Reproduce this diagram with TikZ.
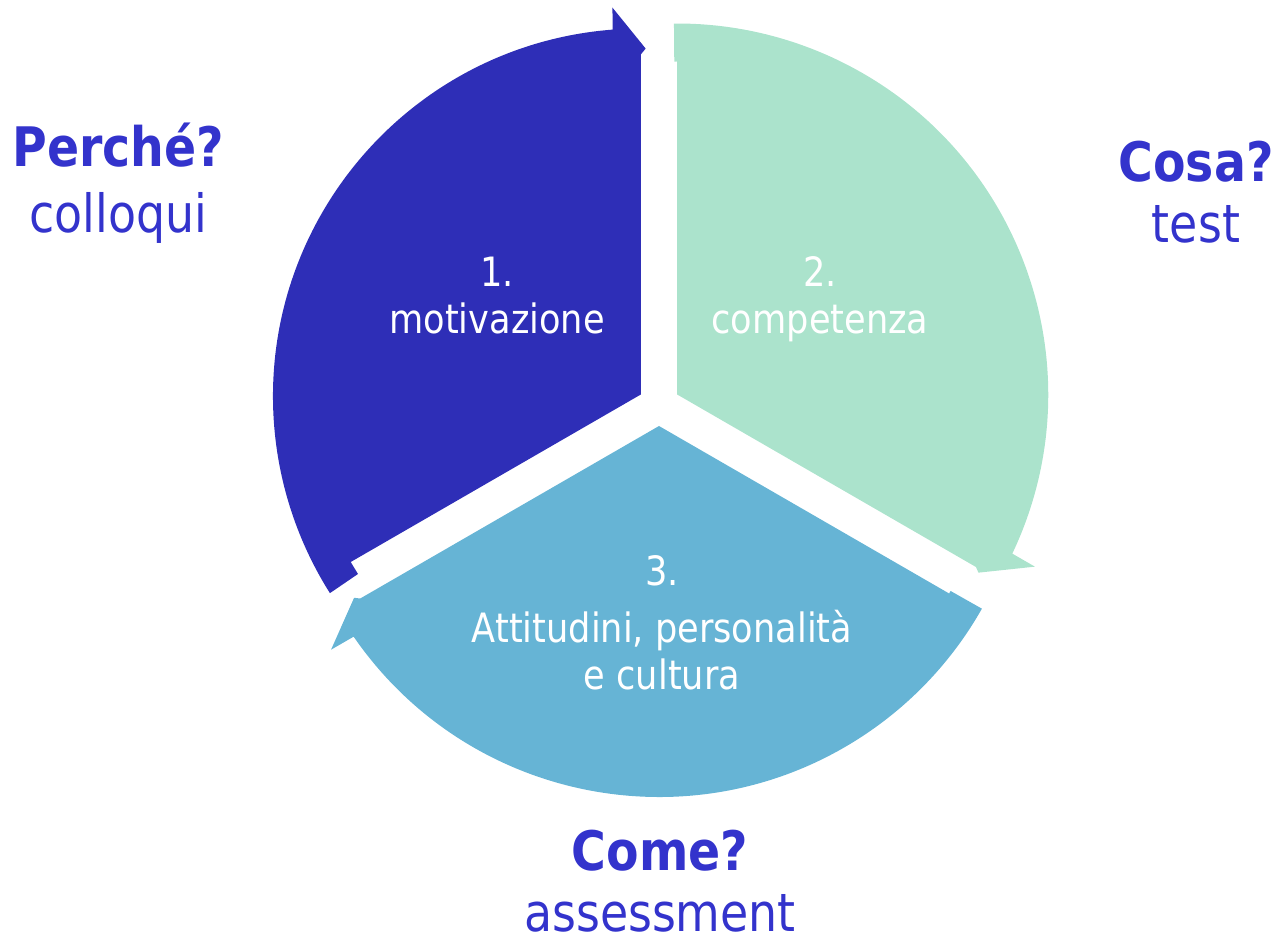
\documentclass[tikz,border=0pt]{standalone}
\usepackage{fontspec}
\setmainfont{DejaVu Sans}[FakeStretch=0.87]
\usetikzlibrary{positioning}
\usetikzlibrary{calc}
\definecolor{motivblue}{RGB}{46,46,183}
\definecolor{compgreen}{RGB}{171,227,204}
\definecolor{attitcyan}{RGB}{102,180,213}
\definecolor{labelblue}{RGB}{51,51,204}
\tikzset{
  segone/.style={fill=motivblue},
  segtwo/.style={fill=compgreen},
  segthree/.style={fill=attitcyan},
  segtext/.style={text=white,font=\fontsize{23}{28}\selectfont,anchor=base,inner sep=0pt},
  qtext/.style={text=labelblue,font=\fontsize{31}{36}\selectfont\bfseries,anchor=base,inner sep=0pt},
  atext/.style={text=labelblue,font=\fontsize{30}{36}\selectfont,anchor=base,inner sep=0pt}
}

\begin{document}
\begin{tikzpicture}[x=0.02cm,y=0.02cm]
            \useasboundingbox (0,0) rectangle (1277,-945);
            \coordinate (c) at (659,-405);
            \coordinate (a1) at ($(c)+(150:21)$);
            \coordinate (a2) at ($(c)+(30:21)$);
            \coordinate (a3) at ($(c)+(270:21)$);

            % the three arrow segments
            \begin{scope}[shift={(a1)}]
                \fill[segone] (0,0) -- (90:340) -- (89.2:346) -- (94.2:388) -- (94.4:366)
                    arc[start angle=94.4,end angle=212.3,radius=368] -- (212.4:335) -- (210:335) -- cycle;
            \end{scope}
            \begin{scope}[shift={(a2)}]
                \fill[segtwo] (0,0) -- (-30:345) -- (-30.6:350) -- (-25.7:397) -- (-25.4:371)
                    arc[start angle=-25.4,end angle=90.5,radius=371] -- (90.5:333) -- (90:333) -- cycle;
            \end{scope}
            \begin{scope}[shift={(a3)}]
                \fill[segthree] (0,0) -- (210:345) -- (209.4:350) -- (214.3:397) -- (214.6:371)
                    arc[start angle=214.6,end angle=330.5,radius=371] -- (330.5:335) -- (330:335) -- cycle;
            \end{scope}

            % texts in the segments
            \node (s1num) [segtext] at (497,-287) {1.};
            \node (s1txt) [segtext,below=26.2pt of s1num.base,anchor=base] {motivazione};
            \node (s2num) [segtext] at (820,-287) {2.};
            \node (s2txt) [segtext,below=26.2pt of s2num.base,anchor=base] {competenza};
            \node (s3num) [segtext] at (662,-585) {3.};
            \node (s3txt) [segtext,below=33pt of s3num.base,anchor=base] {Attitudini, personalità};
            \node (s3more) [segtext,below=26.2pt of s3txt.base,anchor=base] {e cultura};

            % questions round the cycle
            \node (perche) [qtext] at (118.5,-167) {Perché?};
            \node (colloqui) [atext,below=37pt of perche.base,anchor=base] {colloqui};
            \node (cosa) [qtext] at (1196,-182) {Cosa?};
            \node (test) [atext,below=34.7pt of cosa.base,anchor=base] {test};
            \node (come) [qtext] at (660,-870) {Come?};
            \node (assess) [atext,below=35pt of come.base,anchor=base] {assessment};
        \end{tikzpicture}
\end{document}
